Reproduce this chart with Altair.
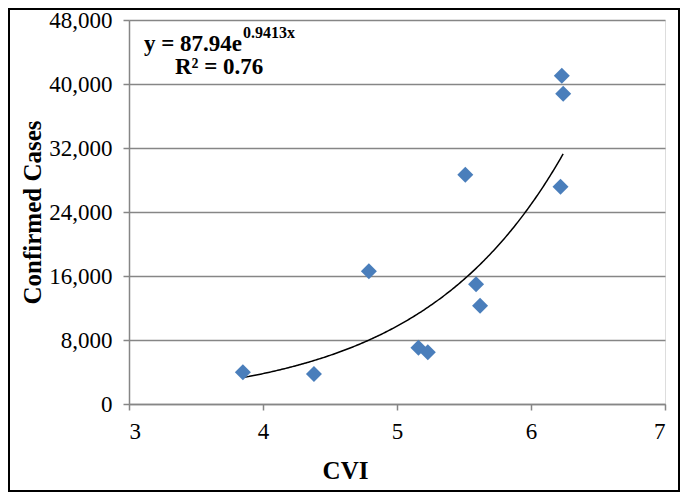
import altair as alt
import pandas as pd

# Data
cvi = [3.85, 4.38, 4.79, 5.16, 5.23, 5.51, 5.59, 5.62, 6.23, 6.24, 6.22]
cases = [3960, 3750, 16590, 7040, 6460, 28670, 14960, 12290, 41040, 38790, 27170]

# Exponential trend line shown on the chart: y = 87.94 e^(0.9413 x)
coef_a = 87.94
coef_b = 0.9413

y_ticks = [0, 8000, 16000, 24000, 32000, 40000, 48000]
x_ticks = [3, 4, 5, 6, 7]

df = pd.DataFrame({"cvi": cvi, "cases": cases})

FONT = "Liberation Serif"
GRAY = "#868686"

x_enc = alt.X(
    "cvi:Q",
    scale=alt.Scale(domain=[3, 7], nice=False),
    axis=alt.Axis(
        title="CVI", values=x_ticks, format="d", grid=False,
        domainColor=GRAY, domainWidth=1.5, tickColor=GRAY, tickWidth=1.5, tickSize=6,
        labelFont=FONT, labelFontSize=23, labelColor="black", labelPadding=10,
        titleFont=FONT, titleFontSize=25, titleFontWeight="bold", titleColor="black",
        titleX=216, titleY=74, titleBaseline="alphabetic", titleAlign="center",
    ),
)
y_enc = alt.Y(
    "cases:Q",
    scale=alt.Scale(domain=[0, 48000], nice=False),
    axis=alt.Axis(
        title="Confirmed Cases", values=y_ticks, format=",d",
        grid=True, gridColor=GRAY, gridWidth=1.5,
        domainColor=GRAY, domainWidth=1.5, tickColor=GRAY, tickWidth=1.5, tickSize=6,
        labelFont=FONT, labelFontSize=23, labelColor="black", labelPadding=11,
        titleFont=FONT, titleFontSize=25, titleFontWeight="bold", titleColor="black",
        titleAngle=270, titleX=-89, titleY=192, titleBaseline="alphabetic", titleAlign="center",
    ),
)

points = alt.Chart(df).mark_point(
    shape="diamond", filled=True, size=256, color="#4A7EBB", opacity=1
).encode(x=x_enc, y=y_enc)

trend = alt.Chart(
    alt.sequence(min(cvi), max(cvi) + 0.001, 0.01, as_="cvi")
).transform_calculate(
    cases=f"{coef_a} * exp({coef_b} * datum.cvi)"
).mark_line(color="black", strokeWidth=1.5).encode(
    x=alt.X("cvi:Q"), y=alt.Y("cases:Q")
)

eq_df = pd.DataFrame({
    "cvi": [3.112, 3.851, 3.343],
    "cases": [44125, 45750, 41250],
    "txt": ["y = 87.94e", "0.9413x", "R² = 0.76"],
    "fs": [23, 16, 23],
})
eq = alt.Chart(eq_df).mark_text(
    font=FONT, fontWeight="bold", color="black", align="left", baseline="alphabetic"
).encode(
    x="cvi:Q", y="cases:Q", text="txt:N",
    size=alt.Size("fs:Q", scale=None, legend=None),
)

frame = alt.Chart(alt.Data(values=[{}])).mark_rect(
    fill=None, stroke="black", strokeWidth=2
).encode(
    x=alt.value(-120), x2=alt.value(550), y=alt.value(-11), y2=alt.value(471)
)

chart = alt.layer(trend, points, eq, frame).properties(
    width=536, height=384,
    padding={"left": 121, "top": 12, "right": 15, "bottom": 88},
    autosize=alt.AutoSizeParams(type="none"),
).configure_view(stroke="black", strokeWidth=2).configure(background="white")

chart.save("out.html", embed_options={"renderer": "svg", "actions": False})
